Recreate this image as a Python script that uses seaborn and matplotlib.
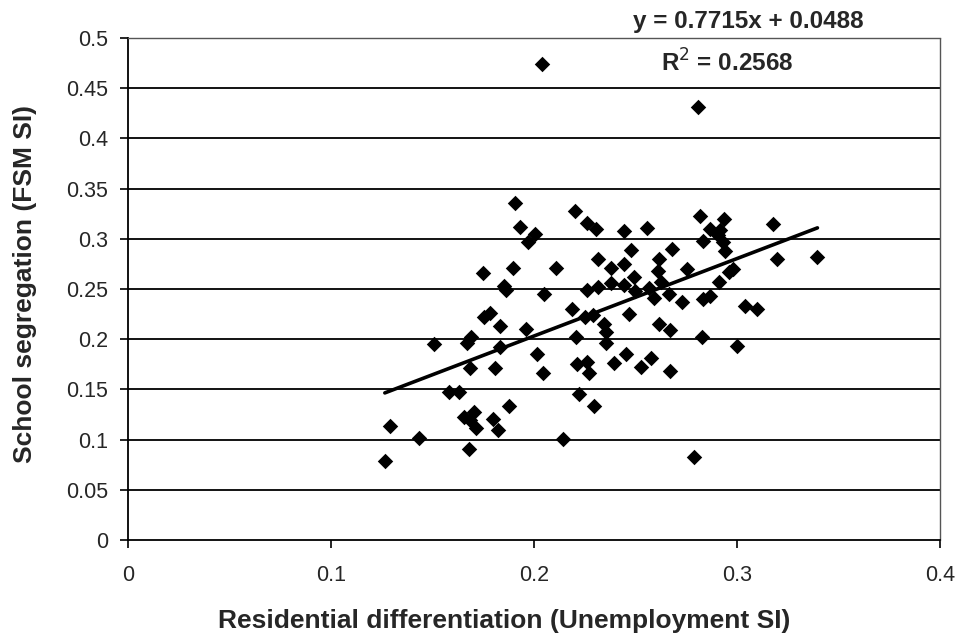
import numpy as np
import pandas as pd
import matplotlib
matplotlib.use("Agg")
import matplotlib.pyplot as plt
from matplotlib import font_manager
import seaborn as sns

# ---- data ----
unemployment_si = [
    0.1906, 0.1934, 0.1970, 0.1895, 0.1752, 0.1852, 0.1865, 0.1783, 0.1754, 0.1833,
    0.1509, 0.1673, 0.1690, 0.1833, 0.1688, 0.1811, 0.1960, 0.1583, 0.1630, 0.1877,
    0.1291, 0.1655, 0.1706, 0.1685, 0.1714, 0.1800, 0.1824, 0.1435, 0.1680, 0.1266,
    0.2205, 0.2260, 0.2304, 0.2445, 0.2558, 0.2008, 0.2481, 0.2683, 0.2317, 0.2445,
    0.2378, 0.2617, 0.2612, 0.2108, 0.2494, 0.2378, 0.2317, 0.2263, 0.2445, 0.2049,
    0.2498, 0.2568, 0.2591, 0.2626, 0.2667, 0.2187, 0.2469, 0.2292, 0.2818, 0.2867,
    0.2834, 0.2755, 0.2731, 0.2834, 0.2867, 0.2254, 0.2346, 0.2355, 0.2355, 0.2617,
    0.2670, 0.2207, 0.2830, 0.2016, 0.2043, 0.2213, 0.2263, 0.2272, 0.2394, 0.2453,
    0.2526, 0.2575, 0.2673, 0.2223, 0.2296, 0.2144, 0.2936, 0.2919, 0.2908, 0.2933,
    0.2944, 0.3176, 0.3200, 0.3397, 0.2962, 0.2982, 0.2911, 0.3039, 0.3100, 0.2790,
    0.3000, 0.2040, 0.2810,
]
fsm_si = [
    0.3360, 0.3120, 0.2970, 0.2706, 0.2660, 0.2530, 0.2490, 0.2258, 0.2224, 0.2131,
    0.1952, 0.1960, 0.2025, 0.1925, 0.1716, 0.1716, 0.2098, 0.1477, 0.1477, 0.1338,
    0.1138, 0.1228, 0.1272, 0.1195, 0.1112, 0.1202, 0.1096, 0.1019, 0.0903, 0.0787,
    0.3280, 0.3160, 0.3094, 0.3078, 0.3110, 0.3048, 0.2888, 0.2898, 0.2796, 0.2749,
    0.2709, 0.2796, 0.2679, 0.2712, 0.2616, 0.2556, 0.2516, 0.2490, 0.2540, 0.2450,
    0.2480, 0.2507, 0.2407, 0.2573, 0.2450, 0.2298, 0.2248, 0.2241, 0.3230, 0.3094,
    0.2981, 0.2703, 0.2374, 0.2397, 0.2430, 0.2224, 0.2151, 0.2075, 0.1965, 0.2148,
    0.2092, 0.2025, 0.2020, 0.1853, 0.1667, 0.1753, 0.1776, 0.1660, 0.1766, 0.1853,
    0.1720, 0.1816, 0.1686, 0.1454, 0.1335, 0.1006, 0.3194, 0.3088, 0.3038, 0.2972,
    0.2878, 0.3144, 0.2796, 0.2816, 0.2672, 0.2696, 0.2573, 0.2331, 0.2301, 0.0830,
    0.1930, 0.4740, 0.4310,
]
trend_slope = 0.7715
trend_intercept = 0.0488
trend_r2 = 0.2568

x_ticks = [0, 0.1, 0.2, 0.3, 0.4]
x_tick_labels = ["0", "0.1", "0.2", "0.3", "0.4"]
y_ticks = [0, 0.05, 0.1, 0.15, 0.2, 0.25, 0.3, 0.35, 0.4, 0.45, 0.5]
y_tick_labels = ["0", "0.05", "0.1", "0.15", "0.2", "0.25", "0.3", "0.35", "0.4", "0.45", "0.5"]

df = pd.DataFrame({"x": unemployment_si, "y": fsm_si})
xs = np.array([min(unemployment_si), max(unemployment_si)])
trend = pd.DataFrame({"x": xs, "y": trend_slope * xs + trend_intercept})

# ---- drawing ----
sns.set_style("white")
plt.rcParams["font.family"] = ["Liberation Sans", "DejaVu Sans"]

installed = {f.name for f in font_manager.fontManager.ttflist}
if "Liberation Sans Narrow" in installed:
    tick_family = ["Liberation Sans Narrow", "Liberation Sans", "DejaVu Sans"]
    tick_size = 19.5
else:
    tick_family = ["Liberation Sans", "DejaVu Sans"]
    tick_size = 15.5

fig = plt.figure(figsize=(9.61, 6.39), dpi=100)
ax = fig.add_axes([0.133, 0.155, 0.845, 0.7855])

for v in y_ticks[1:-1]:
    ax.axhline(v, color="black", lw=1.3, zorder=1)

sns.scatterplot(data=df, x="x", y="y", marker="D", s=62, color="black",
                edgecolor="black", linewidth=0, ax=ax, zorder=3)
sns.lineplot(data=trend, x="x", y="y", color="black", lw=2.6, ax=ax, zorder=4)

ax.set_xlim(0, 0.4)
ax.set_ylim(0, 0.5)
ax.set_xticks(x_ticks)
ax.set_xticklabels(x_tick_labels, fontsize=tick_size, family=tick_family)
ax.set_yticks(y_ticks)
ax.set_yticklabels(y_tick_labels, fontsize=tick_size, family=tick_family)
ax.tick_params(axis="both", direction="out", length=6, width=1.2, color="black",
               bottom=True, left=True)
ax.tick_params(axis="y", pad=8)
ax.tick_params(axis="x", pad=12)

for side in ["left", "bottom"]:
    ax.spines[side].set_color("black")
    ax.spines[side].set_linewidth(1.3)
for side in ["top", "right"]:
    ax.spines[side].set_color("#555555")
    ax.spines[side].set_linewidth(1.0)
    ax.spines[side].set_linestyle((0, (1, 1)))

ax.set_xlabel("Residential differentiation (Unemployment SI)", fontsize=19,
              fontweight="bold")
ax.set_ylabel("School segregation (FSM SI)", fontsize=19, fontweight="bold")
ax.xaxis.set_label_coords(0.464, -0.138)
ax.yaxis.set_label_coords(-0.112, 0.51)

ax.text(0.3056, 0.516, f"y = {trend_slope}x + {trend_intercept}", fontsize=17.5,
        fontweight="bold", ha="center", va="center", clip_on=False)
ax.text(0.295, 0.475, f"R$^{{2}}$ = {trend_r2}", fontsize=17.5,
        fontweight="bold", ha="center", va="center", clip_on=False)

fig.savefig("out.png", dpi=100, facecolor="white")
